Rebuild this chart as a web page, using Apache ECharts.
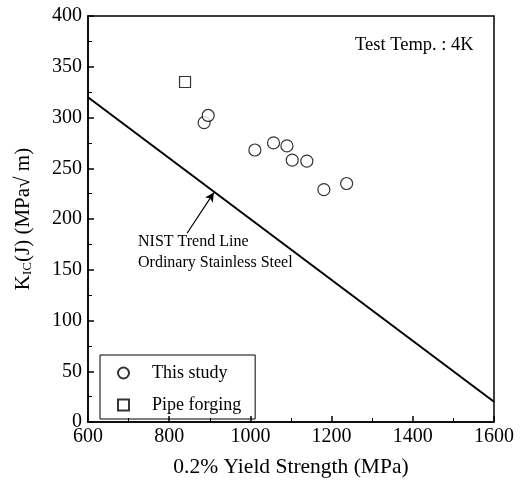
<!DOCTYPE html>
<html>
<head>
<meta charset="utf-8">
<script src="https://cdn.jsdelivr.net/npm/echarts@6/dist/echarts.min.js"></script>
<style>
  html, body { margin: 0; padding: 0; background: #fff; }
  #chart { width: 524px; height: 486px; }
</style>
</head>
<body>
<div id="chart"></div>
<script>
var serif = 'Liberation Serif';

// this study, 4K
var studyX = [886, 896, 1011, 1057, 1090, 1103, 1139, 1181, 1237];
var studyY = [295, 302, 268, 275, 272, 258, 257, 229, 235];

// pipe forging
var pipeX = [839];
var pipeY = [335];

// NIST trend line, ordinary stainless steel
var trendX = [600, 1600];
var trendY = [320, 20];

// arrow from label to trend line
var arrowFrom = [844, 186];
var arrowTo = [910, 226];

function pairs(xs, ys) {
    var out = [];
    for (var i = 0; i < xs.length; i++) {
        out.push([xs[i], ys[i]]);
    }
    return out;
}

var myChart = echarts.init(document.getElementById('chart'));

var axisText = { color: '#000', fontSize: 20, fontFamily: serif, formatter: function (v) { return String(v); } };

var option = {
    animation: false,
    backgroundColor: '#fff',
    grid: {
        left: 88, right: 30, top: 16, bottom: 64,
        show: true,
        borderColor: '#000',
        borderWidth: 1.5
    },
    legend: {
        orient: 'vertical',
        left: 100,
        top: 355,
        padding: [9, 14, 5, 17],
        itemGap: 14,
        itemWidth: 11,
        itemHeight: 11,
        borderColor: '#000',
        borderWidth: 1,
        textStyle: { color: '#000', fontSize: 18, fontFamily: serif, padding: [0, 0, 0, 18] },
        data: ['This study', 'Pipe forging']
    },
    xAxis: {
        type: 'value',
        min: 600,
        max: 1600,
        interval: 200,
        name: '0.2% Yield Strength (MPa)',
        nameLocation: 'middle',
        nameGap: 34,
        nameTextStyle: { color: '#000', fontSize: 21.5, fontFamily: serif },
        splitLine: { show: false },
        axisLine: { lineStyle: { color: '#000', width: 1.5 } },
        axisTick: { inside: true, length: 6, lineStyle: { color: '#000', width: 1.5 } },
        minorTick: { show: true, splitNumber: 2, length: 4, lineStyle: { color: '#000' } },
        axisLabel: Object.assign({ margin: 5 }, axisText)
    },
    yAxis: {
        type: 'value',
        min: 0,
        max: 400,
        interval: 50,
        name: '{k|K}{s|IC}{k|(J) (MPa√ m)}',
        nameLocation: 'middle',
        nameRotate: 90,
        nameGap: 54,
        nameTextStyle: {
            rich: {
                k: { color: '#000', fontSize: 21, fontFamily: serif },
                s: { color: '#000', fontSize: 13, fontFamily: serif, padding: [9, 0, 0, 0] }
            }
        },
        splitLine: { show: false },
        axisLine: { lineStyle: { color: '#000', width: 1.5 } },
        axisTick: { inside: true, length: 6, lineStyle: { color: '#000', width: 1.5 } },
        minorTick: { show: true, splitNumber: 2, length: 4, lineStyle: { color: '#000' } },
        axisLabel: Object.assign({ margin: 6 }, axisText)
    },
    graphic: [
        {
            type: 'text', left: 355, top: 36,
            style: { text: 'Test Temp. : 4K', fill: '#000', font: '18.5px "Liberation Serif"' }
        },
        {
            type: 'text', left: 138, top: 234,
            style: { text: 'NIST Trend Line', fill: '#000', font: '16px "Liberation Serif"' }
        },
        {
            type: 'text', left: 138, top: 255,
            style: { text: 'Ordinary Stainless Steel', fill: '#000', font: '16px "Liberation Serif"' }
        }
    ],
    series: [
        {
            name: 'NIST Trend Line',
            type: 'line',
            data: pairs(trendX, trendY),
            symbol: 'none',
            lineStyle: { color: '#000', width: 2 },
            markLine: {
                silent: true,
                symbol: ['none', 'arrow'],
                symbolSize: [7, 9],
                label: { show: false },
                lineStyle: { color: '#000', width: 1.2, type: 'solid' },
                data: [[{ coord: arrowFrom }, { coord: arrowTo }]]
            }
        },
        {
            name: 'This study',
            type: 'scatter',
            data: pairs(studyX, studyY),
            symbol: 'circle',
            symbolSize: 12,
            itemStyle: { color: '#fff', borderColor: '#000', borderWidth: 1.2 }
        },
        {
            name: 'Pipe forging',
            type: 'scatter',
            data: pairs(pipeX, pipeY),
            symbol: 'rect',
            symbolSize: 11,
            itemStyle: { color: '#fff', borderColor: '#000', borderWidth: 1.2 }
        }
    ]
};

myChart.setOption(option);
</script>
</body>
</html>
